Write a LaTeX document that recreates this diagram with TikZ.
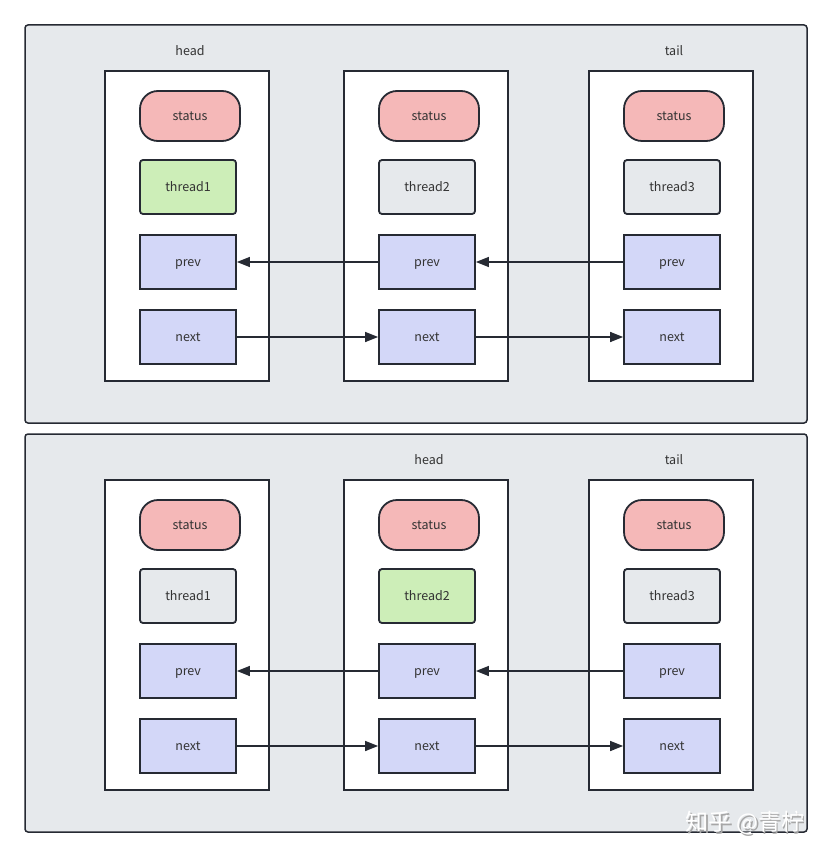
\documentclass[tikz,border=0pt]{standalone}
\usepackage{fontspec}
\setmainfont{Noto Sans CJK SC}
\usetikzlibrary{arrows.meta, positioning}
\definecolor{panelgray}{HTML}{E6E9EC}
\definecolor{linedark}{HTML}{262A33}
\definecolor{statusred}{HTML}{F5B8B8}
\definecolor{threadgreen}{HTML}{CDEEB8}
\definecolor{threadgray}{HTML}{E6E9EC}
\definecolor{ptrblue}{HTML}{D3D7F8}
\definecolor{txtgray}{HTML}{333333}

\begin{document}
\begin{tikzpicture}[x=1pt,y=-1pt,>={Triangle[length=13pt,width=10pt]},
  panel/.style={draw=linedark,line width=1.5pt,fill=panelgray,rounded corners=3pt},
  column/.style={draw=linedark,line width=2pt,fill=white},
  field/.style={draw=linedark,line width=1.8pt,minimum width=96pt,minimum height=54pt,
    inner sep=0pt,text height=10.5pt,text depth=1.5pt,
    font=\fontsize{12.5}{14}\selectfont,text=txtgray},
  statusbox/.style={field,fill=statusred,minimum width=100pt,minimum height=50pt,rounded corners=18pt},
  threadbox/.style={field,rounded corners=3pt},
  ptrbox/.style={field,fill=ptrblue},
  label/.style={font=\fontsize{12.5}{14}\selectfont,text=txtgray},
  link/.style={->,draw=linedark,line width=1.5pt}]
\useasboundingbox (0,0) rectangle (832,858);
\fill[white] (0,0) rectangle (832,858);
\begin{scope}
\draw[panel] (25,25) rectangle (807,423);
\draw[column] (105,71) rectangle (269,381);
\draw[column] (344,71) rectangle (508,381);
\draw[column] (589,71) rectangle (753,381);
\node[label] at (190,51){head};
\node[label] at (674,51){tail};
\node[statusbox](S1) at (190,116){status};
\node[statusbox](S2) at (429,116){status};
\node[statusbox](S3) at (674,116){status};
\node[threadbox,fill=threadgreen](T1) at (188,187){thread1};
\node[threadbox,fill=threadgray](T2) at (427,187){thread2};
\node[threadbox,fill=threadgray](T3) at (672,187){thread3};
\node[ptrbox](P1) at (188,262){prev};
\node[ptrbox](P2) at (427,262){prev};
\node[ptrbox](P3) at (672,262){prev};
\node[ptrbox](N1) at (188,337){next};
\node[ptrbox](N2) at (427,337){next};
\node[ptrbox](N3) at (672,337){next};
\draw[link](P3)--(P2);
\draw[link](P2)--(P1);
\draw[link](N1)--(N2);
\draw[link](N2)--(N3);
\end{scope}
\begin{scope}[yshift=-409pt]
\draw[panel] (25,25) rectangle (807,423);
\draw[column] (105,71) rectangle (269,381);
\draw[column] (344,71) rectangle (508,381);
\draw[column] (589,71) rectangle (753,381);
\node[label] at (429,51){head};
\node[label] at (674,51){tail};
\node[statusbox](S1) at (190,116){status};
\node[statusbox](S2) at (429,116){status};
\node[statusbox](S3) at (674,116){status};
\node[threadbox,fill=threadgray](T1) at (188,187){thread1};
\node[threadbox,fill=threadgreen](T2) at (427,187){thread2};
\node[threadbox,fill=threadgray](T3) at (672,187){thread3};
\node[ptrbox](P1) at (188,262){prev};
\node[ptrbox](P2) at (427,262){prev};
\node[ptrbox](P3) at (672,262){prev};
\node[ptrbox](N1) at (188,337){next};
\node[ptrbox](N2) at (427,337){next};
\node[ptrbox](N3) at (672,337){next};
\draw[link](P3)--(P2);
\draw[link](P2)--(P1);
\draw[link](N1)--(N2);
\draw[link](N2)--(N3);
\end{scope}
% watermark
\node[text=gray!70,font=\fontsize{23}{26}\selectfont] at (746.5,824.5){知乎 @青柠};
\node(WM)[text=white,font=\fontsize{23}{26}\selectfont] at (745,823){知乎 @青柠};
\end{tikzpicture}
\end{document}
